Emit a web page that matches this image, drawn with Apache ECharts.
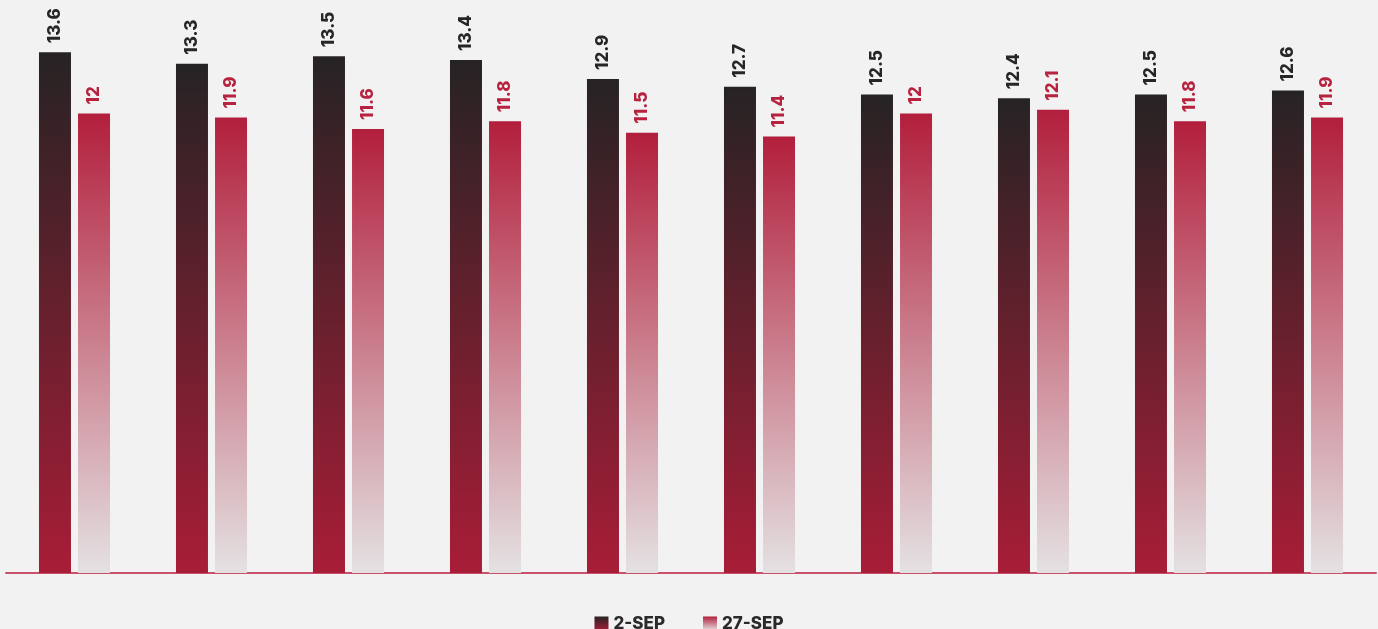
<!DOCTYPE html>
<html><head><meta charset="utf-8">
<script src="https://cdn.jsdelivr.net/npm/echarts@6/dist/echarts.min.js"></script>
<style>html,body{margin:0;padding:0;background:#f2f2f2;}#c{width:1378px;height:629px;}</style>
</head><body><div id="c"></div>
<script>
const categories = ['1','2','3','4','5','6','7','8','9','10'];
const seriesNames = ['2-SEP','27-SEP'];
const sep2 = [13.6,13.3,13.5,13.4,12.9,12.7,12.5,12.4,12.5,12.6];
const sep27 = [12,11.9,11.6,11.8,11.5,11.4,12,12.1,11.8,11.9];

const chart = echarts.init(document.getElementById('c'));
const grad1 = new echarts.graphic.LinearGradient(0,0,0,1,[{offset:0,color:'#262324'},{offset:1,color:'#a81d37'}]);
const grad2 = new echarts.graphic.LinearGradient(0,0,0,1,[{offset:0,color:'#b21f3c'},{offset:1,color:'#e4e1e2'}]);
const lbl = (color)=>({show:true,position:'top',rotate:90,align:'left',verticalAlign:'middle',distance:9,
  color:color,fontFamily:'Inter',fontWeight:800,fontSize:17});
chart.setOption({
  backgroundColor:'#f2f2f2',
  animation:false,
  grid:{left:6,right:2,top:37,bottom:56,containLabel:false},
  legend:{top:610,left:'center',itemWidth:14,itemHeight:14,itemGap:38,icon:'rect',
    textStyle:{fontFamily:'Inter',fontWeight:800,fontSize:17,color:'#2a2a2a'},
    data:seriesNames},
  xAxis:{type:'category',data:categories,axisLabel:{show:false},axisTick:{show:false},
    axisLine:{lineStyle:{color:'#c9506a',width:2}}},
  yAxis:{type:'value',min:0,max:14,show:false,splitLine:{show:false}},
  series:[
    {name:seriesNames[0],type:'bar',data:sep2,barWidth:32,barGap:'22%',itemStyle:{color:grad1},label:lbl('#262626')},
    {name:seriesNames[1],type:'bar',data:sep27,barWidth:32,itemStyle:{color:grad2},label:lbl('#b7223f')}
  ]
});
</script></body></html>
